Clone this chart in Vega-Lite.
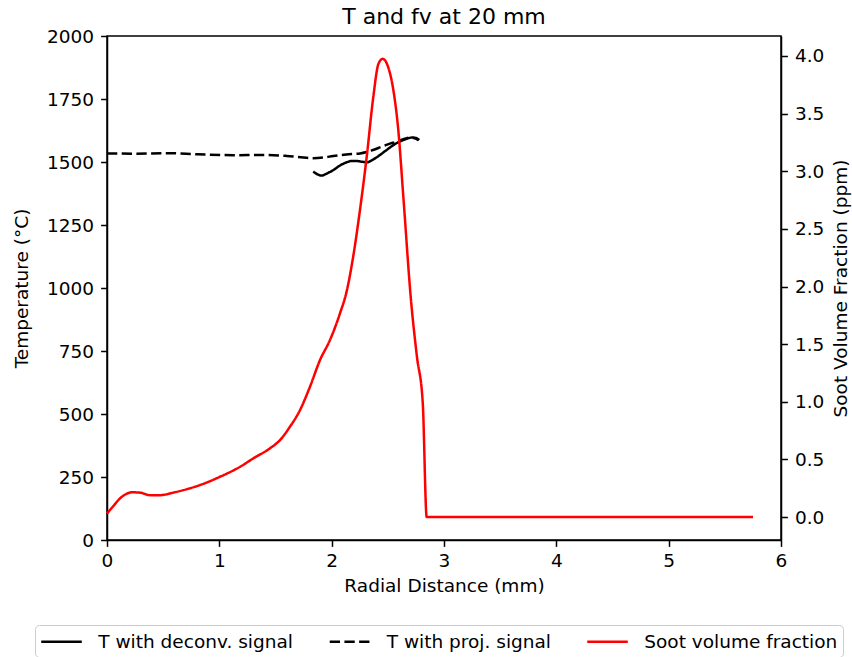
{
  "$schema": "https://vega.github.io/schema/vega-lite/v6.json",
  "autosize": {"type": "none"},
  "padding": {"left": 107, "top": 36, "right": 71, "bottom": 117},
  "width": 674,
  "height": 504,
  "title": {"text": "T and fv at 20 mm", "fontSize": 22, "font": "DejaVu Sans", "fontWeight": "normal", "color": "#000", "offset": -2},
  "config": {
    "view": {"stroke": "#000", "strokeWidth": 1.5},
    "font": "DejaVu Sans",
    "axis": {"grid": false, "domainColor": "#000", "domainWidth": 1.5, "tickColor": "#000", "tickWidth": 1.5, "tickSize": 6.4, "labelFont": "DejaVu Sans", "labelFontSize": 18.5, "labelColor": "#000", "titleFont": "DejaVu Sans", "titleFontSize": 18.5, "titleFontWeight": "normal", "titleColor": "#000", "labelPadding": 7, "labelFlush": false}
  },
  "data": {"values": [
    {"s": "T with deconv. signal", "r": 1.836, "v": 1462},
    {"s": "T with deconv. signal", "r": 1.87, "v": 1452},
    {"s": "T with deconv. signal", "r": 1.91, "v": 1446},
    {"s": "T with deconv. signal", "r": 1.96, "v": 1455},
    {"s": "T with deconv. signal", "r": 2.015, "v": 1468},
    {"s": "T with deconv. signal", "r": 2.07, "v": 1485},
    {"s": "T with deconv. signal", "r": 2.134, "v": 1499},
    {"s": "T with deconv. signal", "r": 2.18, "v": 1504},
    {"s": "T with deconv. signal", "r": 2.223, "v": 1504},
    {"s": "T with deconv. signal", "r": 2.27, "v": 1501},
    {"s": "T with deconv. signal", "r": 2.312, "v": 1499},
    {"s": "T with deconv. signal", "r": 2.37, "v": 1510},
    {"s": "T with deconv. signal", "r": 2.43, "v": 1528},
    {"s": "T with deconv. signal", "r": 2.49, "v": 1548},
    {"s": "T with deconv. signal", "r": 2.549, "v": 1567},
    {"s": "T with deconv. signal", "r": 2.6, "v": 1580},
    {"s": "T with deconv. signal", "r": 2.638, "v": 1587},
    {"s": "T with deconv. signal", "r": 2.68, "v": 1594},
    {"s": "T with deconv. signal", "r": 2.712, "v": 1597},
    {"s": "T with deconv. signal", "r": 2.75, "v": 1595},
    {"s": "T with deconv. signal", "r": 2.78, "v": 1587},
    {"s": "T with proj. signal", "r": 0.0, "v": 1534},
    {"s": "T with proj. signal", "r": 0.25, "v": 1533},
    {"s": "T with proj. signal", "r": 0.53, "v": 1535},
    {"s": "T with proj. signal", "r": 0.8, "v": 1531},
    {"s": "T with proj. signal", "r": 1.124, "v": 1527},
    {"s": "T with proj. signal", "r": 1.42, "v": 1528},
    {"s": "T with proj. signal", "r": 1.6, "v": 1524},
    {"s": "T with proj. signal", "r": 1.75, "v": 1518},
    {"s": "T with proj. signal", "r": 1.836, "v": 1515},
    {"s": "T with proj. signal", "r": 1.93, "v": 1518},
    {"s": "T with proj. signal", "r": 2.015, "v": 1524},
    {"s": "T with proj. signal", "r": 2.13, "v": 1530},
    {"s": "T with proj. signal", "r": 2.252, "v": 1534},
    {"s": "T with proj. signal", "r": 2.35, "v": 1545},
    {"s": "T with proj. signal", "r": 2.43, "v": 1558},
    {"s": "T with proj. signal", "r": 2.5, "v": 1570},
    {"s": "T with proj. signal", "r": 2.579, "v": 1581},
    {"s": "T with proj. signal", "r": 2.65, "v": 1592},
    {"s": "T with proj. signal", "r": 2.697, "v": 1597},
    {"s": "T with proj. signal", "r": 2.74, "v": 1594},
    {"s": "T with proj. signal", "r": 2.771, "v": 1587},
    {"s": "Soot volume fraction", "r": 0.0, "v": 0.03},
    {"s": "Soot volume fraction", "r": 0.06, "v": 0.10},
    {"s": "Soot volume fraction", "r": 0.116, "v": 0.162},
    {"s": "Soot volume fraction", "r": 0.17, "v": 0.2},
    {"s": "Soot volume fraction", "r": 0.22, "v": 0.215},
    {"s": "Soot volume fraction", "r": 0.294, "v": 0.212},
    {"s": "Soot volume fraction", "r": 0.383, "v": 0.19},
    {"s": "Soot volume fraction", "r": 0.472, "v": 0.19},
    {"s": "Soot volume fraction", "r": 0.58, "v": 0.21},
    {"s": "Soot volume fraction", "r": 0.68, "v": 0.234},
    {"s": "Soot volume fraction", "r": 0.828, "v": 0.278},
    {"s": "Soot volume fraction", "r": 1.006, "v": 0.35},
    {"s": "Soot volume fraction", "r": 1.184, "v": 0.436},
    {"s": "Soot volume fraction", "r": 1.302, "v": 0.509},
    {"s": "Soot volume fraction", "r": 1.45, "v": 0.596},
    {"s": "Soot volume fraction", "r": 1.54, "v": 0.668},
    {"s": "Soot volume fraction", "r": 1.629, "v": 0.784},
    {"s": "Soot volume fraction", "r": 1.718, "v": 0.928},
    {"s": "Soot volume fraction", "r": 1.807, "v": 1.131},
    {"s": "Soot volume fraction", "r": 1.896, "v": 1.362},
    {"s": "Soot volume fraction", "r": 1.985, "v": 1.536},
    {"s": "Soot volume fraction", "r": 2.074, "v": 1.767},
    {"s": "Soot volume fraction", "r": 2.134, "v": 1.96},
    {"s": "Soot volume fraction", "r": 2.19, "v": 2.25},
    {"s": "Soot volume fraction", "r": 2.252, "v": 2.664},
    {"s": "Soot volume fraction", "r": 2.312, "v": 3.126},
    {"s": "Soot volume fraction", "r": 2.371, "v": 3.647},
    {"s": "Soot volume fraction", "r": 2.416, "v": 3.93},
    {"s": "Soot volume fraction", "r": 2.454, "v": 3.975},
    {"s": "Soot volume fraction", "r": 2.504, "v": 3.9},
    {"s": "Soot volume fraction", "r": 2.549, "v": 3.705},
    {"s": "Soot volume fraction", "r": 2.593, "v": 3.358},
    {"s": "Soot volume fraction", "r": 2.638, "v": 2.779},
    {"s": "Soot volume fraction", "r": 2.706, "v": 1.883},
    {"s": "Soot volume fraction", "r": 2.758, "v": 1.40},
    {"s": "Soot volume fraction", "r": 2.811, "v": 0.987},
    {"s": "Soot volume fraction", "r": 2.846, "v": 0.0},
    {"s": "Soot volume fraction", "r": 3.0, "v": 0.0},
    {"s": "Soot volume fraction", "r": 4.0, "v": 0.0},
    {"s": "Soot volume fraction", "r": 5.0, "v": 0.0},
    {"s": "Soot volume fraction", "r": 5.751, "v": 0.0}
  ]},
  "encoding": {
    "x": {"field": "r", "type": "quantitative", "scale": {"domain": [0, 6], "nice": false, "zero": false},
      "axis": {"title": "Radial Distance (mm)", "values": [0, 1, 2, 3, 4, 5, 6], "format": "d", "labelPadding": 5, "titlePadding": 7}},
    "color": {"field": "s", "type": "nominal",
      "scale": {"domain": ["T with deconv. signal", "T with proj. signal", "Soot volume fraction"], "range": ["#000000", "#000000", "#ff0000"]},
      "legend": {"title": null, "orient": "none", "legendX": -72, "legendY": 589, "direction": "horizontal",
        "symbolType": "M-1.08,0L3.19,0", "symbolSize": 361, "symbolStrokeWidth": 2.5, "labelFont": "DejaVu Sans", "labelFontSize": 18.5, "labelColor": "#000", "labelLimit": 400,
        "labelOffset": 35.8, "columnPadding": 30.5, "padding": 5.5, "strokeColor": "#cccccc", "fillColor": "#ffffff", "cornerRadius": 4}},
    "strokeDash": {"field": "s", "type": "nominal",
      "scale": {"domain": ["T with deconv. signal", "T with proj. signal", "Soot volume fraction"], "range": [[1, 0], [10.3, 4.4], [1, 0]]},
      "legend": {"title": null}}
  },
  "layer": [
    {
      "transform": [{"filter": "datum.s !== 'Soot volume fraction'"}],
      "mark": {"type": "line", "strokeWidth": 2.5, "interpolate": "monotone"},
      "encoding": {
        "y": {"field": "v", "type": "quantitative", "scale": {"domain": [0, 2000], "nice": false},
          "axis": {"title": "Temperature (°C)", "orient": "left", "values": [0, 250, 500, 750, 1000, 1250, 1500, 1750, 2000], "format": "d", "titlePadding": 15}}
      }
    },
    {
      "transform": [{"filter": "datum.s === 'Soot volume fraction'"}],
      "mark": {"type": "line", "strokeWidth": 2.5, "interpolate": "monotone"},
      "encoding": {
        "y": {"field": "v", "type": "quantitative", "scale": {"domain": [-0.1987, 4.173], "nice": false, "zero": false},
          "axis": {"title": "Soot Volume Fraction (ppm)", "orient": "right", "values": [0, 0.5, 1, 1.5, 2, 2.5, 3, 3.5, 4], "format": ".1f", "titleAngle": -90, "titleX": 59, "titleY": 252, "titleBaseline": "middle", "titleAlign": "center"}}
      }
    }
  ],
  "resolve": {"scale": {"y": "independent"}}
}
